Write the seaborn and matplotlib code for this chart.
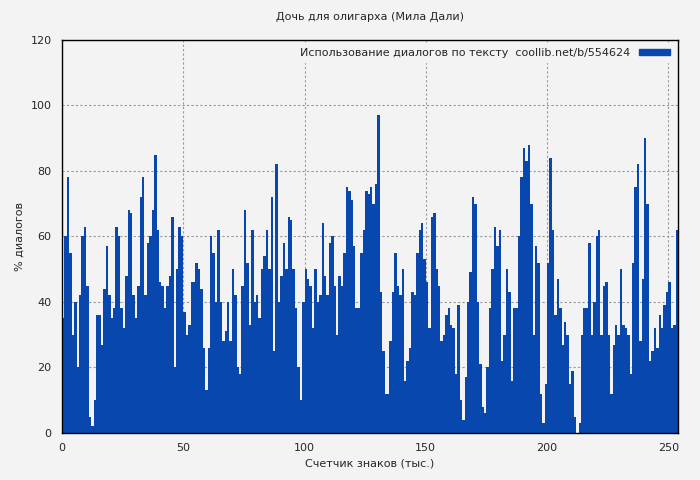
import numpy as np
import pandas as pd
import matplotlib
matplotlib.use('Agg')
import matplotlib.pyplot as plt
import seaborn as sns
from matplotlib.patches import Patch

#Dialogue share per thousand characters
dialog_pct = [
    35, 60, 78, 55, 30, 40, 20, 42, 60, 63, 45, 5, 2, 10, 36, 36, 27, 44, 57, 42,
    35, 38, 63, 60, 38, 32, 48, 68, 67, 42, 35, 45, 72, 78, 42, 58, 60, 68, 85, 62,
    46, 45, 38, 45, 48, 66, 20, 50, 63, 60, 37, 30, 33, 46, 46, 52, 50, 44, 26, 13,
    26, 60, 55, 40, 62, 40, 28, 31, 40, 28, 50, 42, 20, 18, 45, 68, 52, 33, 62, 40,
    42, 35, 50, 54, 62, 50, 72, 25, 82, 40, 48, 58, 50, 66, 65, 50, 38, 20, 10, 40,
    50, 47, 45, 32, 50, 40, 42, 64, 48, 42, 58, 60, 45, 30, 48, 45, 55, 75, 74, 71,
    57, 38, 38, 55, 62, 74, 73, 75, 70, 76, 97, 43, 25, 12, 12, 28, 43, 55, 45, 42,
    50, 16, 22, 26, 43, 42, 55, 62, 64, 53, 46, 32, 66, 67, 50, 45, 28, 30, 36, 38,
    33, 32, 18, 39, 10, 4, 17, 40, 49, 72, 70, 40, 21, 8, 6, 20, 38, 50, 63, 57,
    62, 22, 30, 50, 43, 16, 38, 38, 60, 78, 87, 83, 88, 70, 30, 57, 52, 12, 3, 15,
    52, 84, 62, 36, 47, 38, 27, 34, 30, 15, 19, 5, 0, 3, 30, 38, 38, 58, 30, 40,
    60, 62, 30, 45, 46, 30, 12, 27, 33, 30, 50, 33, 32, 30, 18, 52, 75, 82, 28, 47,
    90, 70, 22, 25, 32, 26, 36, 32, 39, 43, 46, 32, 33, 62,
]
chars_k = np.arange(len(dialog_pct)) + 0.5

df = pd.DataFrame({'chars': chars_k, 'pct': dialog_pct})

bg = '#f3f3f3'
blue = '#0847ad'

sns.set_style('white')
plt.rcParams['font.family'] = ['DejaVu Sans']

fig = plt.figure(figsize=(7, 4.8), dpi=100, facecolor=bg)
ax = fig.add_axes([0.0886, 0.098, 0.880, 0.819])
ax.set_facecolor(bg)

sns.barplot(data=df, x='chars', y='pct', native_scale=True, width=1.0,
            color=blue, saturation=1, linewidth=0, ax=ax, zorder=3)

ax.set_xlim(0, 254)
ax.set_ylim(0, 120)
ax.set_xticks(range(0, 251, 50))
ax.set_yticks(range(0, 121, 20))
ax.grid(True, color='#999999', linestyle=(0, (2, 2)), linewidth=0.8, zorder=0)
ax.set_axisbelow(True)
for s in ax.spines.values():
    s.set_color('black')
    s.set_linewidth(1)
    s.set_zorder(5)
ax.tick_params(labelsize=8, length=4, direction='out', color='black')

ax.set_title('Дочь для олигарха (Мила Дали)', fontsize=8, pad=14)
ax.set_xlabel('Счетчик знаков (тыс.)', fontsize=8)
ax.set_ylabel('% диалогов', fontsize=8)

leg = ax.legend(handles=[Patch(color=blue)],
                labels=['Использование диалогов по тексту  coollib.net/b/554624'],
                loc='upper right', fontsize=8, frameon=True, facecolor=bg,
                edgecolor=bg, framealpha=1, handlelength=2.8, handleheight=0.5,
                markerfirst=False, borderaxespad=0.3)
leg.set_zorder(6)

fig.savefig('out.png', dpi=100, facecolor=bg)
